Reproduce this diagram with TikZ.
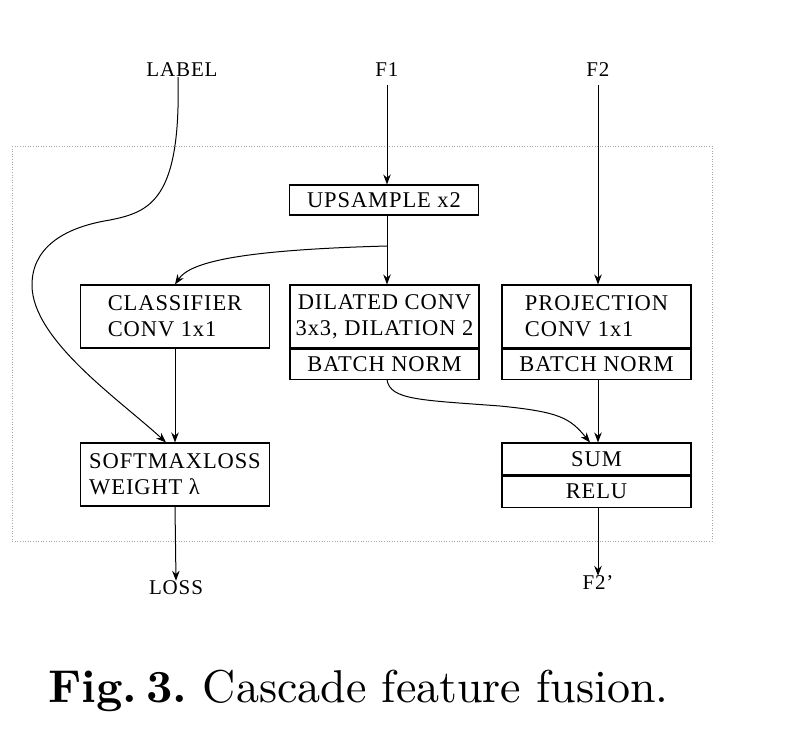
\documentclass[tikz,border=0pt]{standalone}
\usepackage{fontspec}
\setmainfont{Liberation Serif}[LetterSpace=4]
\newfontfamily\capfont{lmroman10-regular.otf}[BoldFont=lmroman10-bold.otf]
\usetikzlibrary{arrows.meta,calc}
\frenchspacing
\begin{document}
\begin{tikzpicture}[x=1pt,y=-1pt,
  lbl/.style={font=\fontsize{21}{25}\selectfont, inner sep=0pt},
  box/.style={draw, line width=1.1pt, inner sep=0pt, font=\fontsize{22.5}{26}\selectfont, minimum width=189pt},
  arr/.style={line width=1pt, -{Stealth[length=10pt,width=7.5pt]}},
  ln/.style={line width=1pt}
]
\useasboundingbox (0,0) rectangle (793,744);
\draw[gray!70, line width=0.6pt, dotted] (12,146) rectangle (712,541);

\node[lbl] (label) at (182,70) {LABEL};
\node[lbl] (f1) at (387,70) {F1};
\node[lbl] (f2) at (598,70) {F2};

\node[box, minimum height=30pt] (up) at (384,200) {UPSAMPLE x2};

\node[box, minimum height=63pt, align=left] (cls) at (175,316.5) {CLASSIFIER\\CONV 1x1};
\node[box, minimum height=63pt, align=center] (dil) at (384.5,316.5) {DILATED CONV\\3x3, DILATION 2};
\node[box, minimum height=30pt, anchor=north] (dbn) at (dil.south) {BATCH NORM};
\node[box, minimum height=63pt, align=left] (proj) at (596.5,316.5) {PROJECTION\\CONV 1x1};
\node[box, minimum height=30pt, anchor=north] (pbn) at (proj.south) {BATCH NORM};

\node[box, minimum height=63pt, align=left] (sm) at (175,474.5) {SOFTMAXLOSS\\WEIGHT λ};
\node[box, minimum height=32pt] (sum) at (596.5,459) {SUM};
\node[box, minimum height=31pt, anchor=north] (relu) at (sum.south) {RELU};

\node[lbl] (loss) at (176,588) {LOSS};
\node[lbl] (f2p) at (598,583) {F2’};

\coordinate (br) at (387,246);

\draw[arr] (f1.south |- 0,85) -- (up.north -| 387,0);
\draw[ln] (up.south -| 387,0) -- (br);
\draw[arr] (br) -- (dil.north -| 387,0);
\draw[arr] (br) .. controls (240,250) and (190,262) .. (cls.north);
\draw[arr] (f2.south |- 0,85) -- (proj.north -| 598,0);
\draw[arr] (pbn.south -| 598,0) -- (sum.north -| 598,0);
\draw[arr] (relu.south -| 598,0) -- (f2p.north);
\draw[arr] (cls.south) -- (sm.north);
\draw[arr] (sm.south) -- (loss.north);
\draw[arr] (dbn.south -| 387,0) .. controls (390,400) and (420,400) .. (500,406)
   .. controls (560,412) and (570,418) .. (sum.north -| 590,0);
\draw[arr] (label.south -| 178,0) .. controls (181,200) and (150,212) .. (110,220)
   .. controls (60,228) and (32,250) .. (32,285)
   .. controls (32,340) and (120,400) .. (sm.north -| 166,0);

\node[anchor=base west, inner sep=0pt, font=\capfont\fontsize{46}{54}\selectfont] (cap) at (48,702) {\textbf{Fig.\kern0.2em 3.} Cascade feature fusion.};
\end{tikzpicture}
\end{document}
